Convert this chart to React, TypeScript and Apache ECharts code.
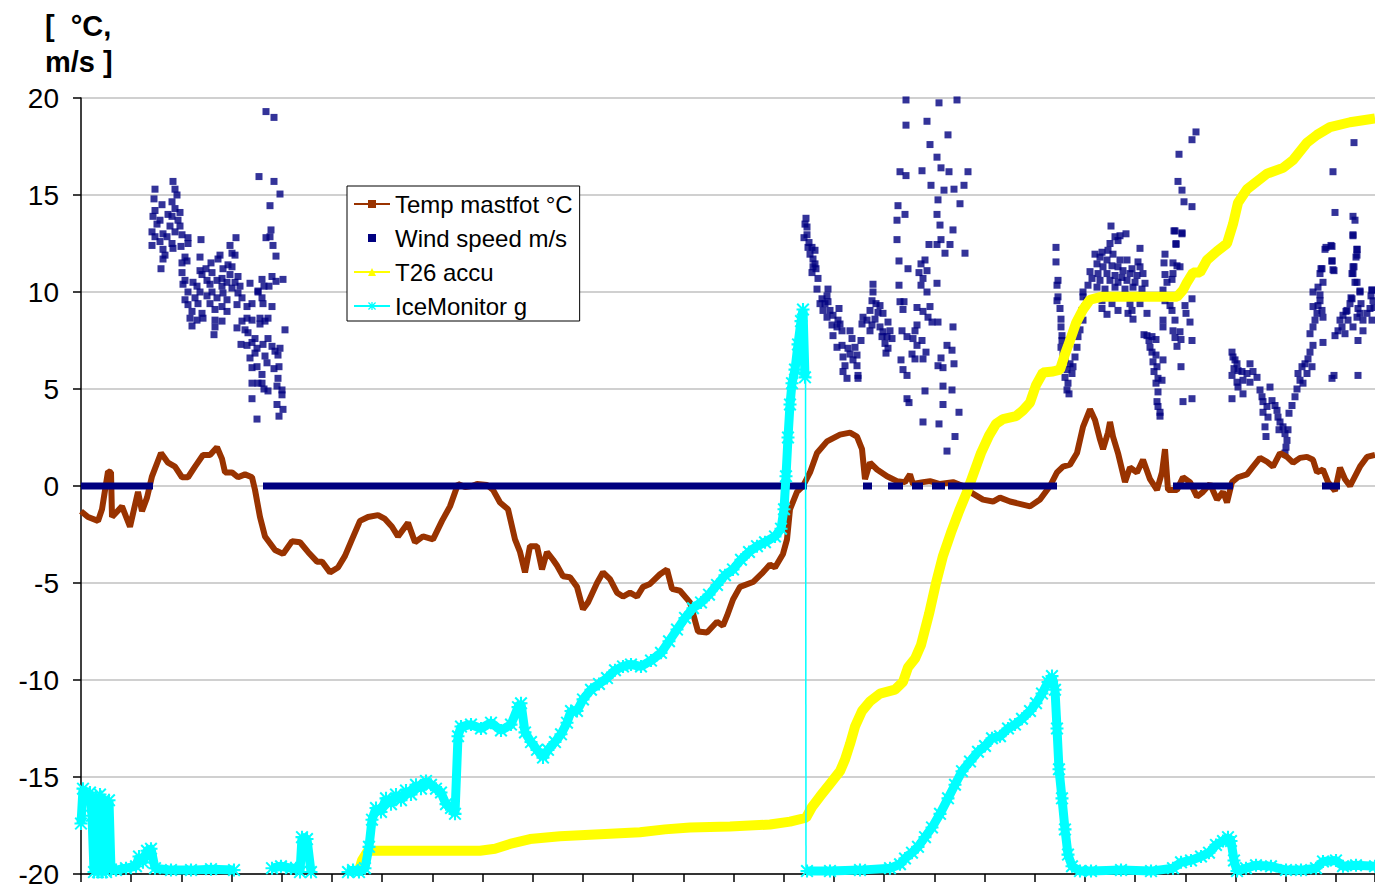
import { useEffect, useRef } from "react";
import * as echarts from "echarts";

const FONT = '"Liberation Sans", Arial, Helvetica, sans-serif';

const TEMP = "Temp mastfot °C";
const WIND = "Wind speed m/s";
const T26 = "T26 accu";
const ICE = "IceMonitor g";

// x: time step index, y: value
const tempData = [
  [0,-1.3],[7,-1.6],[17,-1.8],[21,-1.2],[27,0.75],[30,0.7],[31,-1.6],[41,-1.05],[49,-2.1],[57,-0.3],[61,-1.3],[66,-0.6],[71,0.5],[80,1.7],[87,1.2],[94,1.0],[101,0.45],[107,0.45],[114,1.0],[122,1.6],[129,1.6],[136,2.0],[141,1.4],[144,0.7],[151,0.7],[157,0.45],[164,0.6],[171,0.45],[174,-0.2],[179,-1.6],[184,-2.6],[194,-3.3],[202,-3.5],[211,-2.85],[219,-2.9],[227,-3.4],[236,-3.9],[241,-3.9],[249,-4.45],[257,-4.2],[264,-3.6],[271,-2.75],[279,-1.8],[287,-1.6],[297,-1.5],[304,-1.7],[311,-2.1],[317,-2.6],[327,-1.9],[334,-2.9],[342,-2.6],[352,-2.75],[361,-1.8],[369,-1.05],[377,0.1],[384,-0.05],[391,0],[396,0.1],[406,0.05],[412,-0.2],[419,-0.85],[427,-1.2],[434,-2.75],[439,-3.4],[444,-4.45],[449,-3.1],[456,-3.1],[461,-4.3],[466,-3.4],[472,-3.8],[476,-4.1],[482,-4.65],[489,-4.7],[496,-5.2],[502,-6.35],[507,-6.0],[516,-5.0],[522,-4.45],[529,-4.8],[536,-5.5],[542,-5.7],[549,-5.5],[556,-5.7],[562,-5.2],[569,-5.05],[579,-4.55],[586,-4.3],[591,-5.3],[599,-5.4],[609,-6.0],[617,-7.5],[626,-7.55],[636,-7.0],[642,-7.2],[646,-6.7],[652,-5.85],[659,-5.2],[672,-4.95],[682,-4.45],[689,-4.05],[694,-4.2],[702,-3.5],[706,-2.75],[709,-1.2],[716,-0.3],[722,0],[729,0.7],[736,1.7],[746,2.3],[759,2.65],[769,2.75],[776,2.55],[781,1.9],[784,0.35],[789,1.2],[796,0.85],[806,0.5],[816,0.25],[824,0.2],[829,0.6],[832,0.1],[842,0.2],[849,0.25],[859,0.1],[872,0.2],[882,0],[889,-0.3],[902,-0.7],[912,-0.8],[919,-0.6],[929,-0.8],[949,-1.05],[959,-0.7],[969,0],[976,0.7],[982,1.0],[989,1.1],[996,1.7],[1002,3.05],[1009,3.95],[1014,3.4],[1019,2.4],[1022,1.9],[1027,2.75],[1029,3.3],[1032,2.55],[1037,1.7],[1044,0.2],[1049,0.95],[1056,0.7],[1062,1.35],[1069,0.35],[1076,-0.2],[1081,0.7],[1084,1.9],[1087,-0.2],[1096,-0.2],[1102,0.45],[1109,0.2],[1116,-0.55],[1122,-0.3],[1129,0.1],[1136,-0.7],[1142,-0.3],[1146,-0.85],[1151,0.2],[1157,0.45],[1166,0.6],[1172,1.0],[1179,1.45],[1186,1.25],[1192,1.0],[1199,1.7],[1206,1.5],[1212,1.2],[1219,1.45],[1226,1.5],[1232,1.35],[1236,0.7],[1242,0.85],[1247,0.2],[1254,-0.25],[1259,0.95],[1264,0.35],[1269,0],[1279,1.0],[1286,1.5],[1294,1.6]
];

const windA = [
  [92,15.7],[74,15.3],[94,15.3],[96,15.0],[73,14.8],[91,14.65],[81,14.5],[94,14.3],[74,14.2],[99,14.1],[87,14.0],[72,13.9],[91,13.9],[79,13.7],[97,13.7],[76,13.5],[89,13.4],[99,13.4],[71,13.1],[82,13.0],[94,13.1],[74,12.85],[86,12.85],[101,12.95],[79,12.6],[91,12.5],[71,12.4],[107,12.8],[100,12.35],[82,12.2],[92,12.25],[84,11.9],[82,11.7],[80,11.2],[107,12.5],[120,12.7],[119,11.8],
  [155,12.8],[149,12.4],[151,12.0],[154,11.9],[139,11.9],[104,11.8],[101,11.5],[106,11.6],[130,11.5],[137,11.7],[147,11.4],[151,11.3],[119,11.1],[125,11.2],[142,11.2],[101,11.0],[121,10.9],[131,11.0],[141,10.7],[149,10.9],[157,10.8],[104,10.6],[112,10.5],[126,10.6],[136,10.6],[146,10.5],[154,10.5],[102,10.4],[116,10.3],[129,10.4],[141,10.3],[151,10.2],[159,10.3],[169,10.45],[107,10.0],[119,10.0],[131,10.0],[142,9.95],[157,9.95],[177,10.0],[104,9.6],[114,9.7],[126,9.8],[136,9.7],[146,9.6],[161,9.7],[107,9.35],[117,9.4],[129,9.4],[141,9.25],[156,9.35],[166,9.25],[111,9.0],[121,8.9],[134,9.1],[146,9.0],[171,9.4],[109,8.65],[116,8.55],[122,8.65],[134,8.55],[141,8.5],[161,8.5],[166,8.65],[171,8.55],[111,8.25],[134,8.2],[133,7.8],[156,8.15],[164,8.05],[181,9.7],[182,9.4],[179,8.65],
  [179,8.35],[187,8.65],[184,8.5],[191,9.25],[204,8.05],[167,7.9],[174,7.6],[160,7.3],[166,7.25],[171,7.4],[176,7.1],[187,7.6],[182,7.3],[191,7.2],[194,6.95],[199,7.1],[169,6.6],[174,6.85],[184,6.7],[197,6.75],[171,6.1],[176,6.15],[186,6.35],[193,6.05],[198,6.15],[181,5.75],[171,5.3],[177,5.3],[181,5.3],[197,5.55],[183,5.0],[187,4.9],[196,5.15],[201,4.95],[201,4.7],[171,4.5],[196,4.2],[202,3.95],[198,3.6],[176,3.45],
  [185,19.3],[193,19.0],[178,15.95],[193,15.7],[199,15.05],[189,14.45],[190,13.2],[185,12.8],[189,12.85],[192,12.4],[195,11.85],[181,10.65],[191,10.8],[183,10.3],[188,10.3],[195,10.55],[202,10.65],[177,10.05]
];

const windB = [
  [725,13.8],[724,13.5],[726,13.35],[723,12.8],[726,12.95],[728,12.55],[727,12.3],[731,12.3],[729,11.95],[734,12.15],[732,11.7],[734,11.45],[732,11.3],[735,11.2],[731,11.0],[737,10.7],[736,10.15],[747,10.15],[741,9.65],[746,9.8],[739,9.4],[744,9.4],[747,9.5],[742,9.05],[749,9.05],[758,9.15],[746,8.7],[752,8.8],[757,8.55],[751,8.3],[756,8.2],[759,8.35],[752,7.75],[761,8.0],[769,8.0],[771,7.6],[756,7.15],[761,7.25],[767,7.1],[774,7.15],[780,7.5],[762,6.65],[769,6.8],[776,6.75],[764,6.2],[772,6.5],[776,6.2],[762,5.9],[766,5.55],[777,5.7],[777,5.55],
  [792,10.4],[792,10.0],[791,9.55],[795,9.4],[799,9.3],[789,9.05],[797,8.95],[782,8.7],[786,8.55],[794,8.6],[802,8.9],[781,8.35],[791,8.3],[799,8.2],[807,8.45],[789,8.0],[802,7.95],[809,8.0],[801,7.7],[806,7.7],[811,7.6],[804,7.35],[807,7.1],[805,6.85],
  [825,19.9],[858,19.75],[876,19.9],[825,18.6],[846,18.8],[867,18.1],[849,17.6],[856,16.95],[819,16.2],[825,16.0],[841,16.25],[860,16.4],[868,16.2],[887,16.2],[850,15.5],[863,15.25],[873,15.3],[883,15.5],[857,14.75],[817,14.45],[879,14.55],[824,14.0],[856,14.0],[816,13.7],[859,13.45],[872,13.2],[816,12.7],[848,12.45],[856,12.45],[860,12.7],[869,12.45],[864,12.0],[884,12.0],[818,11.6],[844,11.65],[840,11.45],[827,11.2],[838,11.0],[846,11.1],[842,10.7],[818,10.35],[840,10.35],[856,10.45],[846,10.0],[819,9.5],[823,9.5],[822,9.1],[836,9.2],[842,9.0],[849,9.25],[847,8.7],[836,8.3],[851,8.45],[857,8.45],[872,8.2],[834,8.0],[821,8.0],[826,7.7],[832,7.6],[841,7.5],[836,7.25],[866,7.25],[871,7.0],[831,6.8],[834,6.55],[845,6.9],[842,6.55],[820,6.5],[860,6.6],[873,6.3],[822,6.0],[857,6.2],[862,6.1],[826,5.7],[862,5.15],[844,4.9],[871,4.95],[826,4.5],[828,4.3],[862,4.2],[878,3.8],[842,3.3],[858,3.2],[874,2.55],[866,1.8]
];

const windC = [
  [975,12.3],[975,11.55],[977,10.6],[976,10.35],[977,9.75],[976,9.55],[979,9.15],[980,8.6],[980,8.2],[981,7.75],[981,7.5],[980,7.15],[982,6.8],[984,6.5],[989,6.3],[986,6.0],[984,5.6],[991,5.8],[987,5.3],[986,4.95],[988,4.75],[992,6.15],[994,6.65],[996,7.15],[997,7.7],[999,8.05],[1002,8.55],[1001,9.05],[1004,9.25],[1002,9.75],[1006,9.55],
  [1030,13.4],[1034,12.85],[1039,12.9],[1045,13.0],[1029,12.5],[1037,12.65],[1021,12.05],[1027,12.15],[1032,11.95],[1014,11.95],[1019,11.8],[1026,11.65],[1039,11.65],[1046,11.65],[1059,12.25],[1057,11.55],[1016,11.45],[1022,11.3],[1031,11.35],[1037,11.3],[1042,11.1],[1051,11.2],[1059,11.3],[1009,11.05],[1017,10.95],[1026,10.95],[1034,10.85],[1041,10.75],[1049,10.95],[1056,10.85],[1062,10.95],[1011,10.7],[1019,10.6],[1029,10.6],[1037,10.5],[1046,10.6],[1054,10.5],[1064,10.45],[1007,10.35],[1016,10.25],[1024,10.15],[1034,10.25],[1044,10.15],[1052,10.25],[1061,10.15],[1002,10.0],[1021,9.55],[1031,9.4],[1049,9.4],[1059,9.4],[1021,9.15],[1037,9.05],[1026,8.85],[1047,8.9],[1052,8.6],[1066,8.9],[1051,9.05],
  [1094,13.15],[1101,13.0],[1095,12.45],[1084,11.95],[1083,11.5],[1092,11.5],[1096,11.35],[1099,11.3],[1092,10.95],[1084,10.9],[1091,10.65],[1086,10.5],[1082,10.1],[1084,9.55],[1089,9.3],[1091,9.05],[1111,9.65],[1104,9.3],[1105,8.9],[1109,8.45],[1082,8.55],[1082,8.2],[1094,8.55],[1092,8.0],[1099,7.95],[1094,7.65],[1100,7.55],[1111,7.5],[1096,7.2],[1063,7.8],[1066,7.75],[1068,7.5],[1071,7.7],[1075,7.55],[1069,7.15],[1071,6.9],[1075,6.75],[1082,6.5],[1072,6.4],[1076,6.15],[1073,5.9],[1077,5.55],[1081,5.45],[1075,5.3],[1077,4.85],[1076,4.35],[1077,4.1],[1079,3.8],[1079,3.6],[1100,6.15],[1102,4.35],[1111,4.5],
  [1115,18.25],[1111,17.85],[1098,17.1],[1097,15.7],[1101,15.25],[1103,14.65],[1111,14.4],[1093,13.15],[1101,13.05],[1095,12.5]
];

const windD = [
  [1151,6.9],[1152,6.65],[1154,6.5],[1156,6.3],[1153,6.05],[1157,5.95],[1151,5.7],[1161,5.9],[1166,5.8],[1169,6.3],[1172,5.9],[1176,5.6],[1156,5.35],[1162,5.45],[1169,5.35],[1157,5.1],[1162,4.75],[1151,4.5],[1179,4.95],[1181,4.6],[1182,4.35],[1189,5.1],[1186,4.1],[1182,3.8],[1187,3.55],[1184,3.05],[1185,2.55],[1191,4.4],[1194,4.15],[1196,3.9],[1197,3.55],[1199,3.3],[1202,3.05],[1198,2.9],[1204,2.7],[1207,2.9],[1206,2.35],[1205,2.0],[1204,1.7],
  [1208,3.75],[1211,4.15],[1214,4.6],[1216,5.0],[1219,5.45],[1217,5.8],[1221,6.15],[1222,5.3],[1226,5.8],[1224,6.3],[1227,6.55],[1229,6.9],[1231,6.15],[1232,7.25],[1229,7.85],[1232,8.2],[1234,8.55],[1236,8.9],[1232,9.25],[1237,9.3],[1239,9.55],[1241,9.05],[1242,8.7],[1239,9.85],[1237,10.25],[1242,10.5],[1239,10.95],[1241,11.2],[1244,12.2],[1251,12.35],[1251,11.6],[1253,11.1],[1242,7.4],[1251,5.55],
  [1254,7.75],[1257,8.0],[1261,8.2],[1259,8.55],[1264,7.85],[1262,8.8],[1266,9.05],[1269,9.4],[1271,9.65],[1267,8.55],[1272,8.2],[1276,8.7],[1277,9.15],[1279,8.9],[1282,8.55],[1286,8.9],[1289,9.15],[1291,8.55],[1292,9.55],[1291,10.1],[1282,8.0],[1277,7.5],[1272,11.3],[1272,10.95],[1274,10.5],[1279,10.05],[1275,11.8],[1276,12.2],[1272,12.9],[1277,5.7],
  [1273,17.7],[1252,16.2],[1254,14.1],[1272,13.9],[1274,13.7],[1272,12.95],[1245,12.3],[1250,12.4],[1276,12.2],[1276,11.9],[1251,11.6],[1240,11.2],[1252,11.15],[1273,11.3],[1232,10.0],[1271,10.95],[1276,10.5],[1279,10.0],[1291,10.1],[1265,9.0],[1270,9.7],[1280,9.4],[1290,9.8],[1293,9.2],[1253,5.7]
];

// stretches where wind speed was logged as 0 (start, end)
const windZeroRuns = [
  [0, 72], [182, 726], [782, 791], [807, 822], [831, 842], [851, 864], [867, 976], [1092, 1152], [1241, 1259]
];

const t26Data = [
  [277,-20],[281,-19.3],[287,-18.8],[299,-18.8],[399,-18.8],[414,-18.7],[429,-18.45],[449,-18.2],[479,-18.05],[519,-17.95],[559,-17.85],[584,-17.7],[609,-17.6],[649,-17.55],[689,-17.45],[709,-17.3],[725,-17.1],[731,-16.55],[739,-16.0],[749,-15.35],[759,-14.7],[764,-14.1],[769,-13.3],[774,-12.4],[781,-11.6],[789,-11.1],[799,-10.7],[814,-10.5],[822,-10.1],[827,-9.35],[834,-8.9],[840,-8.2],[848,-6.6],[855,-5.0],[862,-3.6],[870,-2.4],[878,-1.3],[886,-0.3],[893,0.7],[900,1.7],[908,2.6],[915,3.2],[922,3.45],[935,3.6],[942,3.9],[949,4.3],[955,5.2],[962,5.85],[972,5.9],[979,6.0],[984,6.8],[989,7.5],[995,8.4],[1002,9.1],[1009,9.6],[1020,9.75],[1096,9.75],[1102,10.1],[1106,10.5],[1112,11.0],[1119,11.0],[1126,11.65],[1136,12.1],[1146,12.5],[1152,13.5],[1157,14.6],[1166,15.3],[1186,16.1],[1202,16.4],[1212,16.8],[1226,17.7],[1236,18.1],[1249,18.5],[1269,18.75],[1294,18.95]
];

const iceSegments = [
  [[0,-17.4],[2,-15.6],[6,-16.0],[9,-15.8],[11,-17.0],[13,-19.9],[15,-16.0],[17,-19.9],[19,-15.9],[21,-19.9],[23,-16.2],[25,-19.9],[28,-16.2],[30,-19.8],[35,-19.8],[45,-19.7],[55,-19.6],[58,-19.1],[62,-19.4],[66,-18.8],[70,-18.7],[74,-19.7],[90,-19.8],[110,-19.8],[130,-19.75],[153,-19.8]],
  [[191,-19.7],[200,-19.6],[210,-19.7],[215,-19.7]],
  [[219,-19.9],[221,-18.1],[226,-18.2],[230,-19.9]],
  [[267,-19.9],[272,-19.8],[278,-19.9],[284,-19.7],[288,-18.6],[291,-17.2],[295,-16.6],[300,-16.8],[305,-16.1],[310,-16.4],[315,-15.9],[320,-16.2],[325,-15.7],[330,-15.9],[335,-15.4],[340,-15.6],[345,-15.2],[350,-15.4],[355,-15.6],[360,-15.8],[365,-16.4],[370,-16.6],[374,-16.9],[377,-12.9],[380,-12.4],[390,-12.3],[400,-12.5],[410,-12.2],[420,-12.6],[430,-12.3],[437,-11.4],[440,-11.2],[444,-12.7],[450,-13.2],[456,-13.6],[462,-14.0],[467,-13.6],[474,-13.2],[480,-12.8],[486,-12.2],[490,-11.6],[496,-11.6],[502,-11.0],[510,-10.5],[518,-10.2],[526,-9.9],[534,-9.5],[542,-9.3],[550,-9.2],[560,-9.3],[570,-9.0],[580,-8.6],[588,-8.0],[596,-7.4],[604,-6.8],[612,-6.3],[620,-6.0],[628,-5.6],[636,-5.1],[644,-4.6],[652,-4.3],[660,-3.8],[668,-3.4],[676,-3.1],[684,-2.9],[694,-2.6],[700,-2.2],[703,-1.2],[705,0.5],[707,2.5],[709,4.2],[711,5.3],[714,6.0],[717,7.3],[720,8.5],[722,9.1],[724,5.6]],
  [[726,-19.85],[749,-19.85],[779,-19.8],[809,-19.7],[819,-19.5],[824,-19.2],[831,-18.9],[837,-18.6],[844,-18.1],[851,-17.6],[859,-16.9],[867,-16.1],[874,-15.4],[881,-14.7],[889,-14.2],[897,-13.7],[904,-13.4],[911,-13.0],[919,-12.9],[927,-12.5],[934,-12.3],[941,-12.0],[949,-11.6],[955,-11.2],[961,-10.7],[967,-10.1],[971,-9.8],[974,-10.5],[976,-12.5],[978,-14.6],[981,-16.1],[984,-17.7],[987,-19.0],[991,-19.6],[999,-19.85],[1010,-19.85],[1040,-19.8],[1070,-19.85],[1092,-19.7],[1100,-19.4],[1110,-19.3],[1120,-19.1],[1128,-18.9],[1135,-18.5],[1142,-18.3],[1147,-18.1],[1150,-18.3],[1153,-19.3],[1156,-19.85],[1165,-19.7],[1175,-19.55],[1190,-19.6],[1205,-19.8],[1220,-19.8],[1235,-19.7],[1242,-19.35],[1255,-19.3],[1262,-19.6],[1275,-19.55],[1294,-19.6]]
];

// the sudden reset of the ice monitor (thin connector)
const iceReset = [[724.5, 8.2], [725, -19.9]];

const yMin = -20, yMax = 20, yStep = 5;
const xMax = 1294, xTickStep = 50.2;

// filled asterisk marker (four thin bars)
const ASTERISK =
  "path://M4.2,0L5.8,0L5.8,10L4.2,10Z" +
  "M0,4.2L10,4.2L10,5.8L0,5.8Z" +
  "M0,1.1L1.1,0L10,8.9L8.9,10Z" +
  "M8.9,0L10,1.1L1.1,10L0,8.9Z";

export default function App() {
  const ref = useRef<HTMLDivElement>(null);

  useEffect(() => {
    const chart = echarts.init(ref.current!, null, { renderer: "svg" });

    const series: any[] = [];
    series.push({
      name: TEMP, type: "line", data: tempData,
      symbol: "rect", symbolSize: 5, showSymbol: false,
      lineStyle: { color: "#993300", width: 6 },
      itemStyle: { color: "#993300" },
      silent: true,
    });
    series.push({
      name: T26, type: "line", data: t26Data,
      symbol: "triangle", symbolSize: 8, showSymbol: false,
      lineStyle: { color: "#FFFF00", width: 10 },
      itemStyle: { color: "#FFFF00" },
      silent: true, clip: false,
    });
    windZeroRuns.forEach(([a, b]) => {
      series.push({
        name: WIND, type: "line", data: [[a, 0], [b, 0]],
        symbol: "rect", symbolSize: 6, showSymbol: false,
        lineStyle: { color: "#000080", width: 7, cap: "butt" },
        itemStyle: { color: "#000080" },
        silent: true,
      });
    });
    series.push({
      name: WIND, type: "scatter", data: [...windA, ...windB, ...windC, ...windD],
      symbol: "rect", symbolSize: 7,
      itemStyle: { color: "#000080" },
      silent: true,
    });
    iceSegments.forEach((seg) => {
      series.push({
        name: ICE, type: "line", data: seg,
        symbol: ASTERISK, symbolSize: 13, showSymbol: true, showAllSymbol: true,
        lineStyle: { color: "#00FFFF", width: 9 },
        itemStyle: { color: "#00FFFF" },
        silent: true, clip: false,
      });
    });
    series.push({
      name: ICE, type: "line", data: iceReset,
      symbol: ASTERISK, symbolSize: 10, showSymbol: false,
      lineStyle: { color: "#00FFFF", width: 1.5 },
      itemStyle: { color: "#00FFFF" },
      silent: true,
    });

    chart.setOption({
      animation: false,
      backgroundColor: "#ffffff",
      textStyle: { fontFamily: FONT },
      grid: { left: 81, right: 0, top: 98, bottom: 13, containLabel: false },
      xAxis: {
        type: "value", min: 0, max: xMax, interval: xTickStep,
        axisLine: { show: true, onZero: false, lineStyle: { color: "#000", width: 1.5 } },
        axisTick: { show: true, length: 8, lineStyle: { color: "#000", width: 1.5 } },
        axisLabel: { show: false },
        splitLine: { show: false },
      },
      yAxis: {
        type: "value", min: yMin, max: yMax, interval: yStep,
        axisLine: { show: true, onZero: false, lineStyle: { color: "#000", width: 1.5 } },
        axisTick: { show: true, length: 8, lineStyle: { color: "#000", width: 1.5 } },
        axisLabel: { fontFamily: FONT, fontSize: 28, color: "#000", margin: 22 },
        splitLine: { show: true, lineStyle: { color: "#c0c0c0", width: 1.5 } },
      },
      legend: {
        left: 347, top: 186, orient: "vertical",
        padding: [6, 7, 3, 6], itemGap: 10,
        itemWidth: 36, itemHeight: 10,
        borderColor: "#000", borderWidth: 1, backgroundColor: "#fff",
        selectedMode: false,
        textStyle: { fontFamily: FONT, fontSize: 24, color: "#000", lineHeight: 24 },
        lineStyle: { width: 2 },
        data: [
          { name: TEMP },
          { name: WIND, lineStyle: { opacity: 0, width: 0 } },
          { name: T26 },
          { name: ICE },
        ],
      },
      graphic: [
        { type: "text", x: 45, y: 26, style: { text: "[  °C,", font: `bold 29px ${FONT}`, fill: "#000", verticalAlign: "middle" } },
        { type: "text", x: 45, y: 62, style: { text: "m/s ]", font: `bold 29px ${FONT}`, fill: "#000", verticalAlign: "middle" } },
      ],
      series,
    });

    return () => chart.dispose();
  }, []);

  return (
    <div
      ref={ref}
      style={{ position: "fixed", left: 0, top: 0, width: 1375, height: 888, background: "#fff" }}
    />
  );
}
